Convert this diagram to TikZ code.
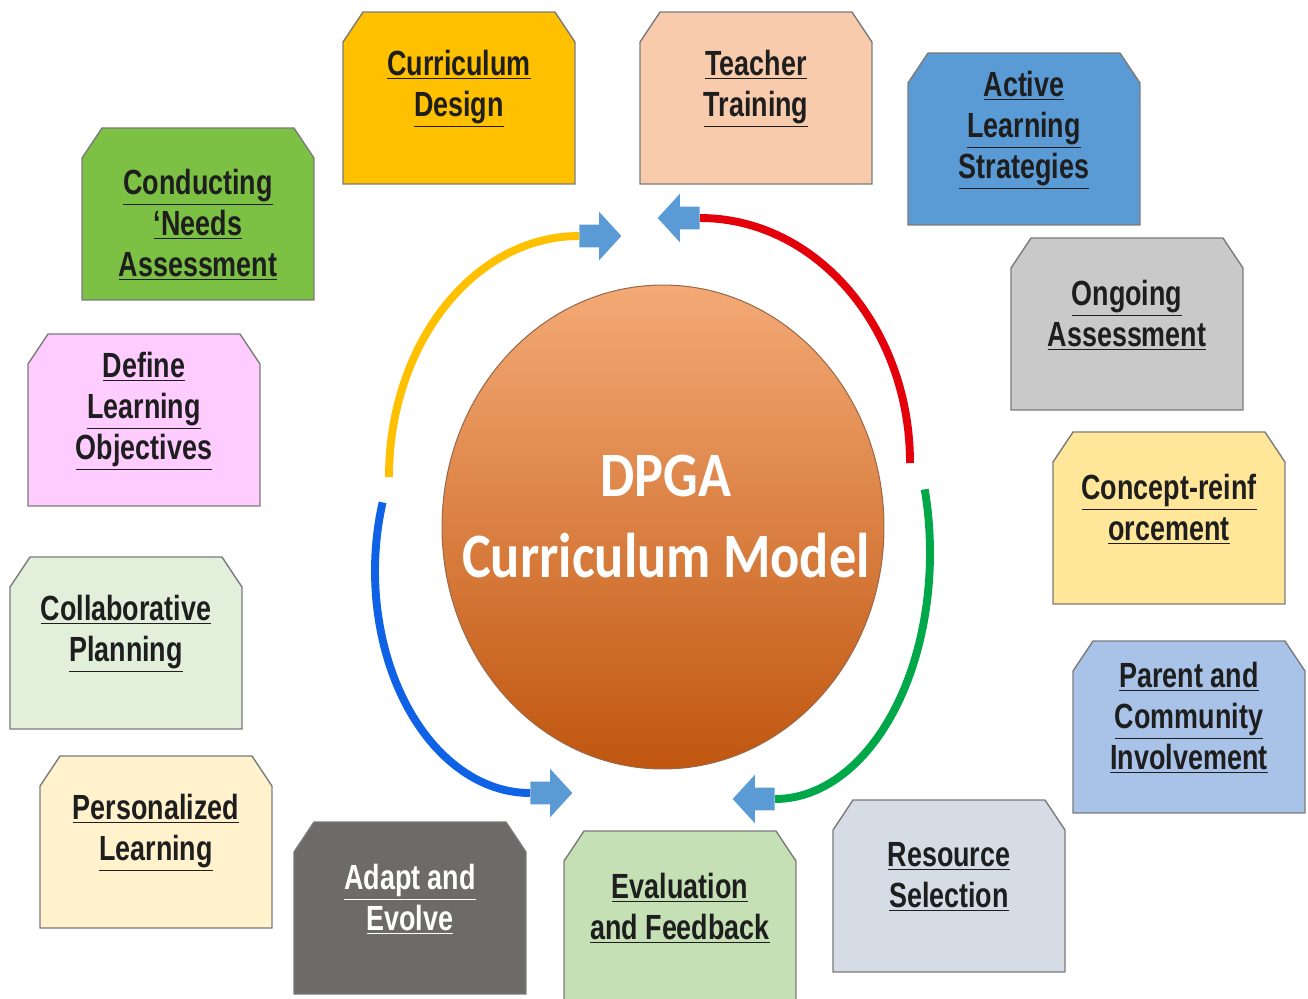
\documentclass[tikz,border=0pt]{standalone}
\usepackage{fontspec}
\newfontfamily\stagefam[FakeStretch=0.77]{Liberation Sans}
\newfontfamily\corefam[FakeStretch=0.86]{Carlito}
\usetikzlibrary{shapes.geometric,shapes.arrows}
\pgfdeclarelayer{background}
\pgfsetlayers{background,main}

% box fills
\definecolor{fdesign}{HTML}{FFC000}
\definecolor{ftraining}{HTML}{F8CBAD}
\definecolor{factive}{HTML}{5B9BD5}
\definecolor{fneeds}{HTML}{7CC144}
\definecolor{fobjectives}{HTML}{FFCCFF}
\definecolor{fongoing}{HTML}{C9C9C9}
\definecolor{freinforce}{HTML}{FFE699}
\definecolor{fcollab}{HTML}{E2EFDA}
\definecolor{fparent}{HTML}{A8C2E8}
\definecolor{fpersonal}{HTML}{FFF2CC}
\definecolor{fadapt}{HTML}{6E6A6A}
\definecolor{fevaluation}{HTML}{C5E0B4}
\definecolor{fresource}{HTML}{D5DCE6}
\definecolor{stageink}{HTML}{1E1E1E}
\definecolor{stageedge}{HTML}{7A7A7A}
% centre and ring
\definecolor{coretop}{HTML}{F4AA76}
\definecolor{coremid}{HTML}{ED7D31}
\definecolor{corebot}{HTML}{C0560F}
\definecolor{coreedge}{HTML}{9A6A4A}
\definecolor{arrowblue}{HTML}{5B9BD5}
\definecolor{ringyellow}{HTML}{FFC000}
\definecolor{ringred}{HTML}{E3000B}
\definecolor{ringblue}{HTML}{0F62E6}
\definecolor{ringgreen}{HTML}{00A84A}

\newcommand\uln[1]{\underline{#1}}

\begin{document}
\begin{tikzpicture}[
    x=0.02cm, y=-0.02cm,
    stage/.style={rectangle, minimum width=4.64cm, minimum height=3.44cm, inner sep=0pt, outer sep=0pt},
    stagetext/.style={align=center, text=stageink, font=\stagefam\bfseries\fontsize{19.9}{23.3}\selectfont, yshift=0.18cm},
    snip/.style={draw=stageedge, line width=0.8pt},
    core/.style={ellipse, minimum width=8.84cm, minimum height=9.68cm, inner sep=0pt, draw=coreedge, line width=0.6pt, top color=coretop, middle color=coremid, bottom color=corebot},
    coretext/.style={align=center, text=white, font=\corefam\bfseries\fontsize{36}{46}\selectfont, xshift=0.06cm, yshift=0.21cm},
    blockarrow/.style={single arrow, fill=arrowblue, inner xsep=0pt, inner ysep=0.22cm, minimum height=0.84cm, single arrow head extend=0.26cm, single arrow tip angle=95},
    ring/.style={line width=4.5pt}
]
\useasboundingbox (0,0) rectangle (1308,998);

% Centre
\node[core, label={[coretext]center:DPGA\\Curriculum Model}] (core) at (663,527) {};

% Stages round the cycle
\node[stage, label={[stagetext]center:\uln{Curriculum}\\\uln{Design}}] (design) at (459,98) {};
\node[stage, label={[stagetext]center:\uln{Teacher}\\\uln{Training}}] (training) at (756,98) {};
\node[stage, label={[stagetext]center:\uln{Active}\\\uln{Learning}\\\uln{Strategies}}] (active) at (1024,139) {};
\node[stage, label={[stagetext, yshift=-0.39cm]center:\uln{Conducting}\\\uln{‘Needs}\\\uln{Assessment}}] (needs) at (198,214) {};
\node[stage, label={[stagetext]center:\uln{Define}\\\uln{Learning}\\\uln{Objectives}}] (objectives) at (144,420) {};
\node[stage, label={[stagetext]center:\uln{Ongoing}\\\uln{Assessment}}] (ongoing) at (1127,324) {};
\node[stage, label={[stagetext]center:\uln{Concept-reinf}\\\uln{orcement}}] (reinforce) at (1169,518) {};
\node[stage, label={[stagetext]center:\uln{Collaborative}\\\uln{Planning}}] (collab) at (126,643) {};
\node[stage, label={[stagetext]center:\uln{Parent and}\\\uln{Community}\\\uln{Involvement}}] (parent) at (1189,727) {};
\node[stage, label={[stagetext]center:\uln{Personalized}\\\uln{Learning}}] (personal) at (156,842) {};
\node[stage, label={[stagetext, text=white]center:\uln{Adapt and}\\\uln{Evolve}}] (adapt) at (410,908) {};
\node[stage, label={[stagetext]center:\uln{Evaluation}\\\uln{and Feedback}}] (evaluation) at (680,917) {};
\node[stage, label={[stagetext]center:\uln{Resource}\\\uln{Selection}}] (resource) at (949,886) {};

% Snipped box outlines
\begin{pgfonlayer}{background}
  \foreach \n/\c in {design/fdesign, training/ftraining, active/factive, needs/fneeds,
      objectives/fobjectives, ongoing/fongoing, reinforce/freinforce, collab/fcollab,
      parent/fparent, personal/fpersonal, adapt/fadapt, evaluation/fevaluation, resource/fresource}
    \filldraw[snip, fill=\c] (\n.south west) -- ([yshift=-0.6cm]\n.north west) -- ([xshift=0.4cm]\n.north west)
      -- ([xshift=-0.4cm]\n.north east) -- ([yshift=-0.6cm]\n.north east) -- (\n.south east) -- cycle;
\end{pgfonlayer}

% Block arrows
\node[blockarrow, anchor=tail] (arrY) at (579,236) {};
\node[blockarrow, anchor=tail, rotate=180] (arrR) at (700,218) {};
\node[blockarrow, anchor=tail] (arrB) at (530,793) {};
\node[blockarrow, anchor=tail, rotate=180] (arrG) at (775,799) {};

% Ring arcs
\draw[ring, draw=ringyellow] (arrY.tail) arc[start angle=-90, end angle=-180, x radius=190, y radius=241];
\draw[ring, draw=ringred] (arrR.tail) arc[start angle=-90, end angle=0, x radius=210, y radius=245];
\draw[ring, draw=ringblue] (arrB.tail) arc[start angle=90, end angle=198, x radius=155, y radius=222];
\draw[ring, draw=ringgreen] (arrG.tail) arc[start angle=90, end angle=-15, x radius=155, y radius=246];

\end{tikzpicture}
\end{document}
